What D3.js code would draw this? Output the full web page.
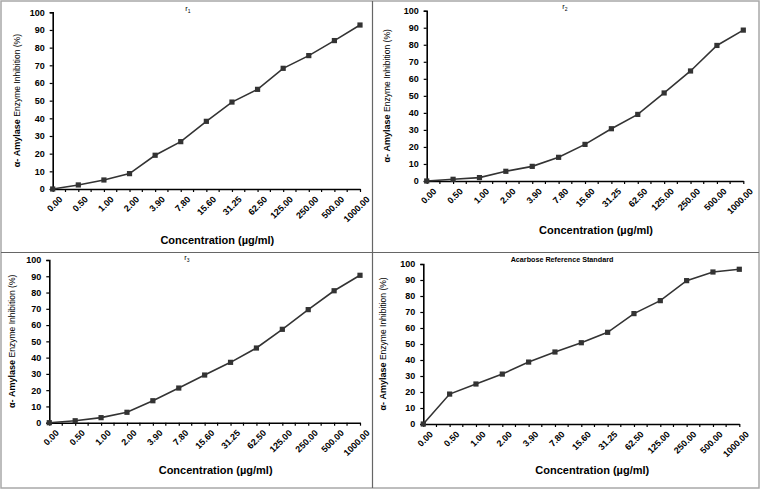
<!DOCTYPE html>
<html>
<head>
<meta charset="utf-8">
<script src="https://cdn.jsdelivr.net/npm/d3@7"></script>
<style>
  body { margin: 0; background: #fff; }
  text { font-family: "Liberation Sans", Arial, sans-serif; }
</style>
</head>
<body>
<script>
// concentrations (µg/ml)
let concLabels = ["0.00", "0.50", "1.00", "2.00", "3.90", "7.80", "15.60", "31.25", "62.50", "125.00", "250.00", "500.00", "1000.00"];
let yTicks = [0, 10, 20, 30, 40, 50, 60, 70, 80, 90, 100];

let r1 = [0, 2.3, 5.1, 8.7, 19.1, 26.8, 38.3, 49.2, 56.4, 68.3, 75.5, 84.0, 92.8];
let r2 = [0, 1.0, 2.0, 5.7, 8.6, 13.9, 21.5, 30.7, 39.1, 51.7, 64.6, 79.6, 88.6];
let r3 = [0, 1.2, 3.1, 6.4, 13.5, 21.3, 29.3, 37.1, 45.9, 57.4, 69.5, 81.1, 90.6];
let acarbose = [0, 18.7, 25.0, 31.2, 38.7, 45.0, 50.8, 57.3, 69.0, 77.1, 89.6, 95.0, 96.7];

let svg = d3.select("body").append("svg")
    .attr("width", 761)
    .attr("height", 490);

// panel frames
svg.append("rect").attr("x", 1).attr("y", 1).attr("width", 758).attr("height", 487)
    .attr("fill", "none").attr("stroke", "#a8a8a8").attr("stroke-width", 1.5);
svg.append("line").attr("x1", 372.5).attr("x2", 372.5).attr("y1", 1).attr("y2", 488)
    .attr("stroke", "#666").attr("stroke-width", 1.2);
svg.append("line").attr("x1", 1).attr("x2", 759).attr("y1", 252.5).attr("y2", 252.5)
    .attr("stroke", "#666").attr("stroke-width", 1.2);

function panel(values, title, box) {
    let g = svg.append("g");
    let x = d3.scalePoint().domain(concLabels).range([box.x0, box.x1]);
    let y = d3.scaleLinear().domain([0, 100]).range([box.y0, box.yTop]);

    // y axis
    let yAxis = g.append("g")
        .attr("transform", "translate(" + box.x0 + ",0)")
        .call(d3.axisLeft(y).tickValues(yTicks).tickSize(3).tickPadding(5));
    yAxis.select(".domain").attr("stroke", "#000").attr("stroke-width", 1.6);
    yAxis.selectAll(".tick line").attr("stroke", "#000").attr("stroke-width", 1.2);
    yAxis.selectAll("text").attr("font-size", 9).attr("font-weight", "bold").attr("fill", "#000");

    // x axis
    let xAxis = g.append("g")
        .attr("transform", "translate(0," + box.y0 + ")")
        .call(d3.axisBottom(x).tickSize(3).tickSizeOuter(0).tickPadding(4));
    xAxis.select(".domain").attr("stroke", "#000").attr("stroke-width", 1.6);
    xAxis.selectAll(".tick line").attr("stroke", "#000").attr("stroke-width", 1.2);
    xAxis.selectAll("text")
        .attr("font-size", 9)
        .attr("font-weight", "bold")
        .attr("fill", "#000")
        .attr("text-anchor", "end")
        .attr("dy", "0.3em")
        .attr("transform", "translate(3,4) rotate(-45)");

    // minor ticks between categories
    let step = x.step();
    g.selectAll(".minor").data(concLabels.slice(1)).enter().append("line")
        .attr("x1", d => x(d) - step / 2).attr("x2", d => x(d) - step / 2)
        .attr("y1", box.y0).attr("y2", box.y0 + 3)
        .attr("stroke", "#000").attr("stroke-width", 1.2);

    // line + markers
    let line = d3.line().x((d, i) => x(concLabels[i])).y(d => y(d));
    g.append("path").datum(values).attr("d", line)
        .attr("fill", "none").attr("stroke", "#333").attr("stroke-width", 1.6);
    g.selectAll(".pt").data(values).enter().append("rect")
        .attr("x", (d, i) => x(concLabels[i]) - 2.6)
        .attr("y", d => y(d) - 2.6)
        .attr("width", 5.2).attr("height", 5.2)
        .attr("fill", "#333");

    // title
    let t = g.append("text")
        .attr("x", box.tx).attr("y", box.ty)
        .attr("text-anchor", "middle")
        .attr("font-size", 7.5).attr("fill", "#000");
    if (title.sub) {
        t.append("tspan").text(title.main);
        t.append("tspan").text(title.sub).attr("font-size", 5).attr("dy", 2);
    } else {
        t.text(title.main).attr("font-weight", "bold").attr("font-size", 7.2)
            .attr("font-family", "'Open Sans', sans-serif");
    }

    // axis titles
    g.append("text")
        .attr("x", (box.x0 + box.x1) / 2 + 11).attr("y", box.xty)
        .attr("text-anchor", "middle")
        .attr("font-size", 11).attr("font-weight", "bold").attr("fill", "#000")
        .text("Concentration (µg/ml)");

    let yt = g.append("text")
        .attr("transform", "translate(" + box.ytx + "," + (box.y0 + box.yTop) / 2 + ") rotate(-90)")
        .attr("text-anchor", "middle").attr("fill", "#000");
    yt.append("tspan").text("α- Amylase ").attr("font-size", 9).attr("font-weight", "bold");
    yt.append("tspan").text("Enzyme Inhibition (%)").attr("font-size", 8.5)
        .attr("font-family", "'Liberation Sans Narrow', 'Liberation Sans', sans-serif");
}

panel(r1, {main: "r", sub: "1"},
    {x0: 52.7, x1: 360, yTop: 12.3, y0: 189, tx: 188, ty: 11, xty: 244, ytx: 20});
panel(r2, {main: "r", sub: "2"},
    {x0: 426.7, x1: 743.3, yTop: 10.7, y0: 181, tx: 565, ty: 9, xty: 234, ytx: 390});
panel(r3, {main: "r", sub: "3"},
    {x0: 49.3, x1: 360, yTop: 260, y0: 422.7, tx: 187, ty: 260, xty: 474, ytx: 15});
panel(acarbose, {main: "Acarbose Reference Standard"},
    {x0: 423.3, x1: 739.3, yTop: 264, y0: 424, tx: 562, ty: 262, xty: 474, ytx: 386});
</script>
</body>
</html>
